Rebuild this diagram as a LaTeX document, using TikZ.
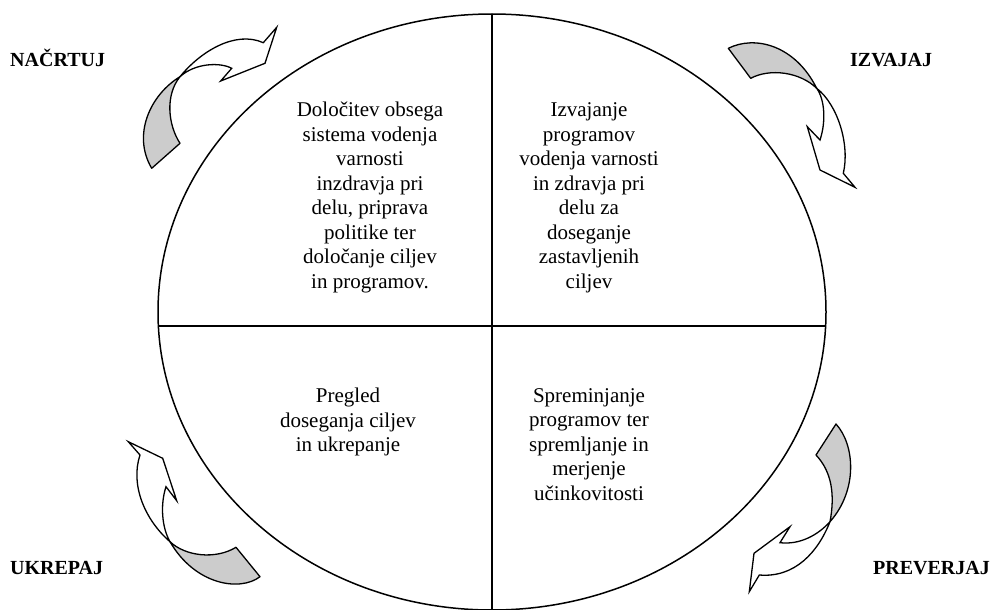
\documentclass[tikz,border=0pt]{standalone}
\usepackage{fontspec}
\setmainfont{Liberation Serif}
\definecolor{ribbongray}{RGB}{204,204,204}
\begin{document}
\begin{tikzpicture}[x=1pt,y=-1pt,
  outline/.style={draw=black, line width=1.5pt},
  ribbonback/.style={draw=black, line width=1.3pt, fill=ribbongray, line join=round},
  ribbonfront/.style={draw=black, line width=1.3pt, fill=white, line join=miter},
  body/.style={font=\fontsize{21}{24.5}\selectfont, align=center, inner sep=0pt, anchor=north},
  phase/.style={font=\fontsize{20}{24}\selectfont\bfseries, inner sep=0pt, anchor=base west},
]
\useasboundingbox[fill=white] (0,0) rectangle (999,610);

% the cycle and its four quadrants
\draw[outline] (492,312) ellipse [x radius=334pt, y radius=298pt];
\coordinate (top) at (492,14);
\coordinate (bottom) at (492,612);
\coordinate (left) at (158.4,326);
\coordinate (right) at (825.6,326);
\draw[outline] (top) -- (bottom);
\draw[outline] (left) -- (right);

% quadrant texts
\node[body] (plan) at (370,102) {Določitev obsega\\sistema vodenja\\varnosti\\inzdravja pri\\delu, priprava\\politike ter\\določanje ciljev\\in programov.};
\node[body] (do) at (589,102.5) {Izvajanje\\programov\\vodenja varnosti\\in zdravja pri\\delu za\\doseganje\\zastavljenih\\ciljev};
\node[body] (act) at (348,388) {Pregled\\doseganja ciljev\\in ukrepanje};
\node[body] (check) at (589,388) {Spreminjanje\\programov ter\\spremljanje in\\merjenje\\učinkovitosti};

% phase labels
\node[phase] (lplan) at (10,66.7) {NAČRTUJ};
\node[phase] (ldo) at (850,66.7) {IZVAJAJ};
\node[phase] (lact) at (10,574) {UKREPAJ};
\node[phase] (lcheck) at (873,574) {PREVERJAJ};

% twisted ribbon arrow, top left
\draw[ribbonback] (151.7,168.3) .. controls (132,135) and (150,95) .. (180,76.7)
  .. controls (165,95) and (168,125) .. (180,143.3) -- cycle;
\draw[ribbonfront] (180,76.7) .. controls (200,52) and (235,30) .. (263.3,42.7)
  -- (276.7,27.3) -- (265,63.3) -- (220.7,81) -- (231.7,68.3)
  .. controls (220,62) and (195,63) .. (180,76.7) -- cycle;

% twisted ribbon arrow, top right
\draw[ribbonback] (728.3,48.3) .. controls (755,35) and (795,45) .. (816.7,88.3)
  .. controls (800,72) and (770,68) .. (750.7,78.3) -- cycle;
\draw[ribbonfront] (816.7,88.3) .. controls (838,105) and (850,145) .. (843.3,173.3)
  -- (855,187.3) -- (820,170) -- (807.3,126.7) -- (820,140)
  .. controls (826,122) and (825,100) .. (816.7,88.3) -- cycle;

% twisted ribbon arrow, bottom left
\draw[ribbonback] (170,541.7) .. controls (185,556) and (215,560) .. (236,547.3)
  -- (260,576.7) .. controls (240,592) and (195,585) .. (170,541.7) -- cycle;
\draw[ribbonfront] (170,541.7) .. controls (145,520) and (130,485) .. (140,455)
  -- (128.3,441.7) -- (162.7,458.3) -- (176.7,500.7) -- (166,486.7)
  .. controls (160,505) and (162,528) .. (170,541.7) -- cycle;

% twisted ribbon arrow, bottom right
\draw[ribbonback] (836,424) .. controls (855,445) and (858,490) .. (830,521.7)
  .. controls (835,495) and (832,472) .. (816,455) -- cycle;
\draw[ribbonfront] (830,521.7) .. controls (818,552) and (795,578) .. (759.3,575)
  -- (749.3,591.7) -- (754,553.3) -- (790,526.7) -- (780,542.7)
  .. controls (800,545) and (818,535) .. (830,521.7) -- cycle;
\end{tikzpicture}
\end{document}
